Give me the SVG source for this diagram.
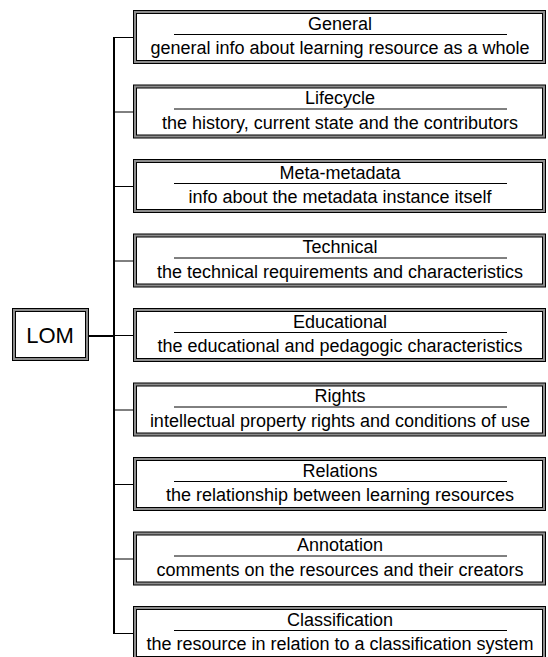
<svg xmlns="http://www.w3.org/2000/svg" width="548" height="657" viewBox="0 0 548 657">
<style>
.o{fill:#8c8c8c;stroke:#000;stroke-width:1}
.i{fill:#fff;stroke:#000;stroke-width:1}
.t{font-family:"Liberation Sans",Arial,sans-serif;font-size:18px;fill:#000;text-anchor:middle}
.u{stroke:#000;stroke-width:1}
.c{stroke:#000;fill:none}
</style>
<defs>
<g id="frame">
<rect class="o" x="133.5" y="0.5" width="412" height="53"/>
<rect class="i" x="136.5" y="3.5" width="406" height="47"/>
<line class="u" x1="174" y1="24.5" x2="507" y2="24.5"/>
</g>
</defs>
<g id="connectors">
<line class="c" stroke-width="2" x1="114" y1="37" x2="114" y2="634"/>
<line class="c" stroke-width="2" x1="89" y1="336" x2="114" y2="336"/>
<g stroke-width="1">
<line class="c" x1="114" y1="37.5" x2="133" y2="37.5"/>
<line class="c" x1="114" y1="112" x2="133" y2="112"/>
<line class="c" x1="114" y1="186.5" x2="133" y2="186.5"/>
<line class="c" x1="114" y1="261" x2="133" y2="261"/>
<line class="c" x1="114" y1="335.5" x2="133" y2="335.5"/>
<line class="c" x1="114" y1="410" x2="133" y2="410"/>
<line class="c" x1="114" y1="484.5" x2="133" y2="484.5"/>
<line class="c" x1="114" y1="559" x2="133" y2="559"/>
<line class="c" x1="114" y1="633.5" x2="133" y2="633.5"/>
</g>
</g>
<g id="lom">
<rect class="o" x="12.5" y="308.5" width="76" height="52"/>
<rect class="i" x="15.5" y="311.5" width="70" height="46"/>
<text x="50" y="343" font-family="Liberation Sans,Arial,sans-serif" font-size="22" text-anchor="middle">LOM</text>
</g>
<g id="general" transform="translate(0,10)">
<use href="#frame"/>
<text class="t" x="340" y="19.5">General</text>
<text class="t" x="340" y="44">general info about learning resource as a whole</text>
</g>
<g id="lifecycle" transform="translate(0,84.5)">
<use href="#frame"/>
<text class="t" x="340" y="19.5">Lifecycle</text>
<text class="t" x="340" y="44">the history, current state and the contributors</text>
</g>
<g id="metametadata" transform="translate(0,159)">
<use href="#frame"/>
<text class="t" x="340" y="19.5">Meta-metadata</text>
<text class="t" x="340" y="44">info about the metadata instance itself</text>
</g>
<g id="technical" transform="translate(0,233.5)">
<use href="#frame"/>
<text class="t" x="340" y="19.5">Technical</text>
<text class="t" x="340" y="44">the technical requirements and characteristics</text>
</g>
<g id="educational" transform="translate(0,308)">
<use href="#frame"/>
<text class="t" x="340" y="19.5">Educational</text>
<text class="t" x="340" y="44">the educational and pedagogic characteristics</text>
</g>
<g id="rights" transform="translate(0,382.5)">
<use href="#frame"/>
<text class="t" x="340" y="19.5">Rights</text>
<text class="t" x="340" y="44">intellectual property rights and conditions of use</text>
</g>
<g id="relations" transform="translate(0,457)">
<use href="#frame"/>
<text class="t" x="340" y="19.5">Relations</text>
<text class="t" x="340" y="44">the relationship between learning resources</text>
</g>
<g id="annotation" transform="translate(0,531.5)">
<use href="#frame"/>
<text class="t" x="340" y="19.5">Annotation</text>
<text class="t" x="340" y="44">comments on the resources and their creators</text>
</g>
<g id="classification" transform="translate(0,606)">
<use href="#frame"/>
<text class="t" x="340" y="19.5">Classification</text>
<text class="t" x="340" y="44">the resource in relation to a classification system</text>
</g>
</svg>
